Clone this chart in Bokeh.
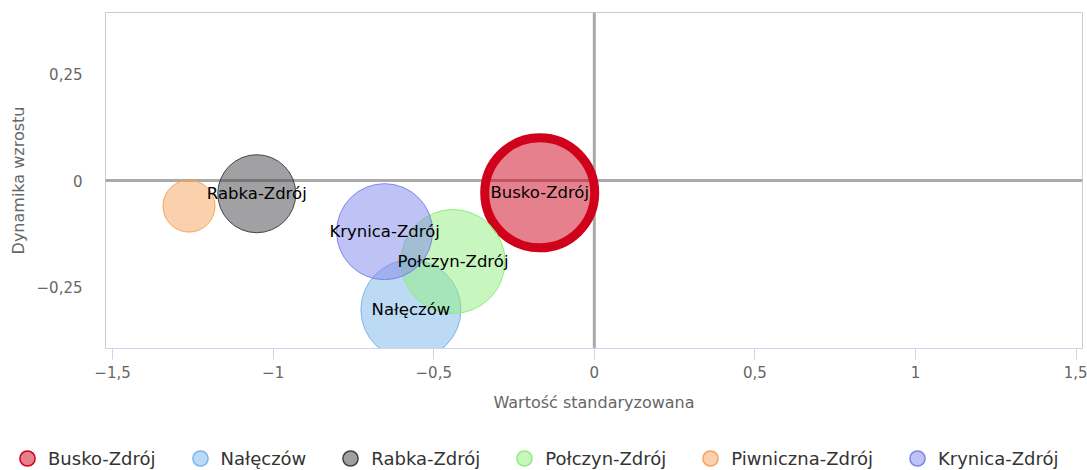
import numpy as np
from bokeh.plotting import figure
from bokeh.layouts import column
from bokeh.models import ColumnDataSource, FixedTicker, Span, Legend, LegendItem, Range1d
from bokeh.embed import file_html
from bokeh.resources import INLINE
from bokeh.core.properties import value

# ---- data ----
miasta = ["Busko-Zdrój", "Nałęczów", "Rabka-Zdrój", "Połczyn-Zdrój", "Piwniczna-Zdrój", "Krynica-Zdrój"]
wartosc_std = [-0.170, -0.571, -1.051, -0.440, -1.262, -0.653]
dynamika = [-0.029, -0.303, -0.031, -0.190, -0.060, -0.120]
wielkosc = [55, 50, 39, 52, 26, 48]
pokaz_etykiete = [True, True, True, True, False, True]
kolory = ["#d0021b", "#7cb5ec", "#434348", "#90ed7d", "#f7a35c", "#8085e9"]
x_ticks = [-1.5, -1, -0.5, 0, 0.5, 1, 1.5]
x_tick_labels = ["−1,5", "−1", "−0,5", "0", "0,5", "1", "1,5"]
y_ticks = [-0.25, 0, 0.25]
y_tick_labels = ["−0,25", "0", "0,25"]

FONT = "DejaVu Sans"

p = figure(width=1087, height=440,
           x_range=Range1d(-1.522, 1.52), y_range=Range1d(-0.394, 0.394),
           output_backend="svg", toolbar_location=None,
           min_border_left=105, min_border_right=5, min_border_top=12, min_border_bottom=92)
p.frame_align = False
p.xgrid.visible = False
p.ygrid.visible = False
p.outline_line_color = "#cccccc"
p.outline_line_width = 1
p.background_fill_color = "white"
p.border_fill_color = "white"

# zero lines
p.add_layout(Span(location=0, dimension="width", line_color="#aaaaaa", line_width=3, level="underlay"))
p.add_layout(Span(location=0, dimension="height", line_color="#aaaaaa", line_width=3, level="underlay"))

# x axis
xa = p.xaxis[0]
xa.ticker = FixedTicker(ticks=x_ticks)
xa.major_label_overrides = {t: l for t, l in zip(x_ticks, x_tick_labels)}
xa.axis_line_color = "#ccd6eb"
xa.major_tick_line_color = "#ccd6eb"
xa.major_tick_out = 11
xa.major_tick_in = 0
xa.minor_tick_line_color = None
xa.major_label_text_font = FONT
xa.major_label_text_font_size = "15px"
xa.major_label_text_color = "#666666"
xa.major_label_standoff = 6
xa.axis_label = "Wartość standaryzowana"
xa.axis_label_text_font = FONT
xa.axis_label_text_font_size = "16px"
xa.axis_label_text_font_style = "normal"
xa.axis_label_text_color = "#666666"
xa.axis_label_standoff = 12

ya = p.yaxis[0]
ya.ticker = FixedTicker(ticks=y_ticks)
ya.major_label_overrides = {t: l for t, l in zip(y_ticks, y_tick_labels)}
ya.axis_line_color = None
ya.major_tick_line_color = None
ya.minor_tick_line_color = None
ya.major_tick_out = 0
ya.major_tick_in = 0
ya.major_label_text_font = FONT
ya.major_label_text_font_size = "15px"
ya.major_label_text_color = "#666666"
ya.major_label_standoff = 23
ya.axis_label = "Dynamika wzrostu"
ya.axis_label_text_font = FONT
ya.axis_label_text_font_size = "16px"
ya.axis_label_text_font_style = "normal"
ya.axis_label_text_color = "#666666"
ya.axis_label_standoff = 6

for i, name in enumerate(miasta):
    src = ColumnDataSource(dict(x=[wartosc_std[i]], y=[dynamika[i]], d=[2 * wielkosc[i]]))
    lw = 9 if i == 0 else 1
    p.scatter("x", "y", size="d", source=src, marker="circle",
              fill_color=kolory[i], fill_alpha=0.5, line_color=kolory[i], line_width=lw)

idx = [i for i, s in enumerate(pokaz_etykiete) if s]
lab_src = ColumnDataSource(dict(x=[wartosc_std[i] for i in idx], y=[dynamika[i] for i in idx],
                                t=[miasta[i] for i in idx]))
p.text("x", "y", text="t", source=lab_src, text_font=value(FONT), text_font_size="16.5px",
       text_align="center", text_baseline="middle", text_color="#000000")

# legend strip
lg = figure(width=1087, height=30, x_range=Range1d(0, 1), y_range=Range1d(0, 1),
            output_backend="svg", toolbar_location=None,
            x_axis_location=None, y_axis_location=None,
            min_border_left=0, min_border_right=0, min_border_top=0, min_border_bottom=0)
lg.frame_align = False
lg.grid.visible = False
lg.outline_line_color = None
lg.border_fill_color = "white"
items = []
for i, name in enumerate(miasta):
    dummy = lg.scatter(x=[np.nan], y=[np.nan], marker="circle", fill_color=kolory[i], fill_alpha=0.5,
                       line_color=kolory[i], line_width=1.5)
    items.append(LegendItem(label=name, renderers=[dummy]))
legend = Legend(items=items, orientation="horizontal", location=(8, -7),
                glyph_width=38, glyph_height=38, label_standoff=2, spacing=25,
                padding=0, margin=0, border_line_color=None, background_fill_alpha=0,
                label_text_font=FONT, label_text_font_size="18px", label_text_color="#333333")
lg.add_layout(legend)

layout = column(p, lg, spacing=0)
open("out.html", "w").write(file_html(layout, INLINE))
